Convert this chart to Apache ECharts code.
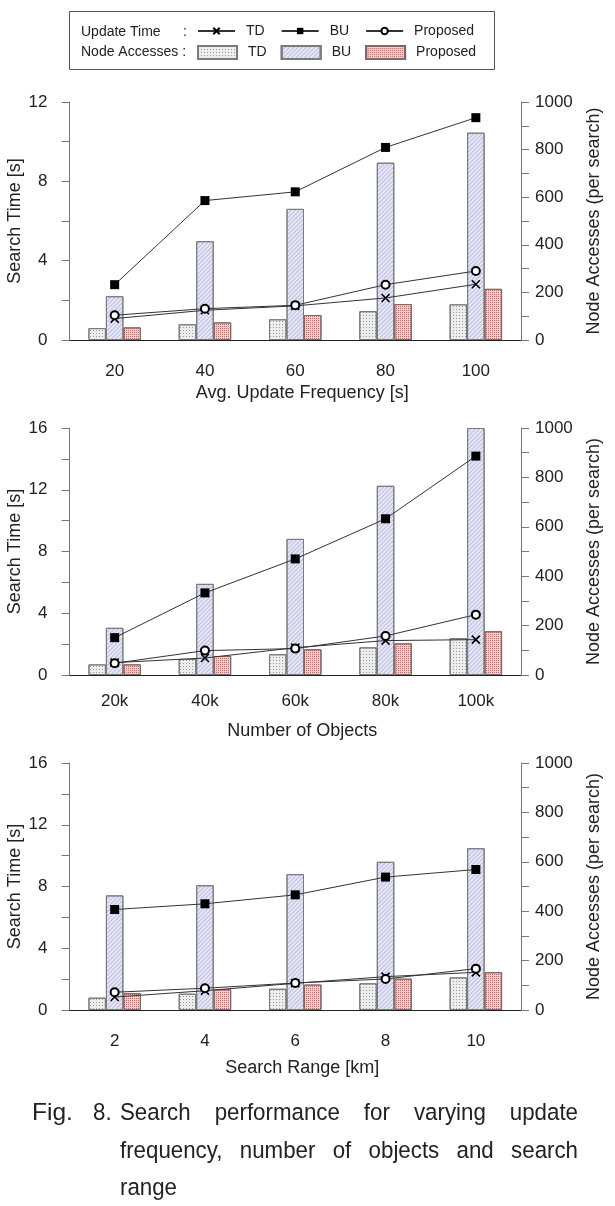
<!DOCTYPE html>
<html><head><meta charset="utf-8">
<script src="https://cdn.jsdelivr.net/npm/echarts@6/dist/echarts.min.js"></script>
<style>html,body{margin:0;padding:0;background:#fff}#c{width:615px;height:1206px}</style>
</head><body><div id="c"></div>
<script>
// ---------- data ----------
const categories1 = ['20', '40', '60', '80', '100'];
const categories2 = ['20k', '40k', '60k', '80k', '100k'];
const categories3 = ['2', '4', '6', '8', '10'];

// node accesses (right axis)
const tdNodes1 = [50, 66, 87, 121, 150];
const buNodes1 = [184, 415, 551, 745, 871];
const propNodes1 = [53, 74, 105, 151, 215];
const tdNodes2 = [43, 65, 84, 112, 149];
const buNodes2 = [191, 369, 551, 766, 1000];
const propNodes2 = [43, 77, 104, 128, 177];
const tdNodes3 = [50, 66, 86, 108, 132];
const buNodes3 = [464, 505, 550, 600, 655];
const propNodes3 = [68, 84, 103, 127, 153];

// search time (left axis)
const tdTime1 = [1.08, 1.50, 1.72, 2.12, 2.81];
const buTime1 = [2.79, 7.03, 7.47, 9.71, 11.21];
const propTime1 = [1.25, 1.58, 1.75, 2.79, 3.48];
const tdTime2 = [0.80, 1.10, 1.77, 2.23, 2.29];
const buTime2 = [2.42, 5.32, 7.52, 10.12, 14.18];
const propTime2 = [0.76, 1.58, 1.71, 2.53, 3.91];
const tdTime3 = [0.84, 1.25, 1.73, 2.16, 2.44];
const buTime3 = [6.51, 6.88, 7.46, 8.61, 9.10];
const propTime3 = [1.15, 1.41, 1.75, 2.01, 2.68];

const leftMax = [12, 16, 16];
const rightMax = 1000;
const xNames = ['Avg. Update Frequency [s]', 'Number of Objects', 'Search Range [km]'];
const leftName = 'Search Time [s]';
const rightName = 'Node Accesses (per search)';
const captionLine1Lead = ['Fig.', '8.'];
const captionLine1 = ['Search', 'performance', 'for', 'varying', 'update'];
const captionLine2 = ['frequency,', 'number', 'of', 'objects', 'and', 'search'];
const captionLine3 = ['range'];

// ---------- layout / style ----------
const FONT = '"Liberation Sans", Arial, Helvetica, sans-serif';
const TXT = '#222';
const AX = '#777';
const cats = [categories1, categories2, categories3];
const tdN = [tdNodes1, tdNodes2, tdNodes3];
const buN = [buNodes1, buNodes2, buNodes3];
const prN = [propNodes1, propNodes2, propNodes3];
const tdT = [tdTime1, tdTime2, tdTime3];
const buT = [buTime1, buTime2, buTime3];
const prT = [propTime1, propTime2, propTime3];

const gridDefs = [
  { top: 102, height: 238, labelMargin: 23, nameGap: 44 },
  { top: 428, height: 247, labelMargin: 18, nameGap: 47 },
  { top: 763, height: 247, labelMargin: 23, nameGap: 49 }
];
const GL = 69.5, GR = 94;

const tdBarStyle = {
  color: '#ededed', borderColor: '#7a7a7a', borderWidth: 1,
  decal: { symbol: 'rect', symbolSize: 1, color: 'rgba(70,70,70,0.5)', dashArrayX: [1, 2], dashArrayY: [1, 2], rotation: 0 }
};
const buBarStyle = {
  color: '#e6e8fa', borderColor: '#7a7a7a', borderWidth: 1,
  decal: { symbol: 'rect', symbolSize: 1, color: 'rgba(110,110,160,0.35)', dashArrayX: [1, 0], dashArrayY: [1, 2], rotation: -Math.PI / 4 }
};
const prBarStyle = {
  color: '#f7c9c9', borderColor: '#7a6a6a', borderWidth: 1,
  decal: { symbol: 'rect', symbolSize: 1, color: 'rgba(215,50,50,0.7)', dashArrayX: [1, 1], dashArrayY: [1, 1], rotation: 0 }
};

const grid = [], xAxis = [], yAxis = [], series = [];
for (let i = 0; i < 3; i++) {
  const g = gridDefs[i];
  grid.push({ left: GL, right: GR, top: g.top, height: g.height, containLabel: false, outerBoundsMode: 'none' });
  xAxis.push({
    type: 'category', gridIndex: i, data: cats[i], boundaryGap: true,
    axisLine: { lineStyle: { color: '#222', width: 1 } },
    axisTick: { alignWithLabel: true, length: 14, lineStyle: { color: AX } },
    axisLabel: { margin: g.labelMargin, fontSize: 17, color: TXT, fontFamily: FONT },
    name: xNames[i], nameLocation: 'middle', nameGap: g.nameGap,
    nameTextStyle: { fontSize: 18, color: TXT, fontFamily: FONT, padding: [0, 0, 0, 14] }
  });
  yAxis.push({
    type: 'value', gridIndex: i, position: 'left', min: 0, max: leftMax[i], interval: 2,
    axisLine: { show: true, lineStyle: { color: AX } },
    axisTick: { show: true, length: 8, lineStyle: { color: AX } },
    splitLine: { show: false },
    axisLabel: { margin: 22, fontSize: 17, color: TXT, fontFamily: FONT, formatter: v => (v % 4 === 0 ? String(v) : '') },
    name: leftName, nameLocation: 'middle', nameGap: 45, nameRotate: 90, nameMoveOverlap: false,
    nameTextStyle: { fontSize: 18, color: TXT, fontFamily: FONT }
  });
  yAxis.push({
    type: 'value', gridIndex: i, position: 'right', min: 0, max: rightMax, interval: 100,
    axisLine: { show: true, lineStyle: { color: AX } },
    axisTick: { show: true, length: 8, lineStyle: { color: AX } },
    splitLine: { show: false },
    axisLabel: { margin: 14, fontSize: 17, color: TXT, fontFamily: FONT, formatter: v => (v % 200 === 0 ? String(v) : '') },
    name: rightName, nameLocation: 'middle', nameGap: 64, nameRotate: 90,
    nameTextStyle: { fontSize: 18, color: TXT, fontFamily: FONT }
  });
  const barCommon = { type: 'bar', xAxisIndex: i, yAxisIndex: 2 * i + 1, barWidth: 17.5, barGap: '0%', emphasis: { disabled: true }, z: 2 };
  series.push(Object.assign({ name: 'TD nodes', data: tdN[i], itemStyle: tdBarStyle }, barCommon));
  series.push(Object.assign({ name: 'BU nodes', data: buN[i], itemStyle: buBarStyle }, barCommon));
  series.push(Object.assign({ name: 'Proposed nodes', data: prN[i], itemStyle: prBarStyle }, barCommon));
  const lineCommon = { type: 'line', xAxisIndex: i, yAxisIndex: 2 * i, lineStyle: { color: '#333', width: 1 }, emphasis: { disabled: true }, z: 5 };
  series.push(Object.assign({
    name: 'TD time', data: tdT[i], symbol: 'path://M0,0L10,10M10,0L0,10', symbolSize: 8,
    itemStyle: { color: 'none', borderColor: '#000', borderWidth: 1.6 }
  }, lineCommon));
  series.push(Object.assign({
    name: 'BU time', data: buT[i], symbol: 'rect', symbolSize: 9,
    itemStyle: { color: '#000' }
  }, lineCommon));
  series.push(Object.assign({
    name: 'Proposed time', data: prT[i], symbol: 'emptyCircle', symbolSize: 8,
    itemStyle: { color: '#000', borderWidth: 1 }
  }, lineCommon));
}

// ---------- caption layout (justified words) ----------
const capFont = '24.5px ' + FONT;
const capScale = 0.91;
const mctx = document.createElement('canvas').getContext('2d');
mctx.font = capFont;
function wordW(w) { return mctx.measureText(w).width * capScale; }
function capText(w, x, y, sx) {
  return { type: 'text', x: x, y: y, scaleX: sx || capScale, style: { text: w, font: capFont, fill: TXT, verticalAlign: 'middle' } };
}
function justify(words, x0, x1, y) {
  const widths = words.map(wordW);
  const sum = widths.reduce((a, b) => a + b, 0);
  const gap = words.length > 1 ? (x1 - x0 - sum) / (words.length - 1) : 0;
  let x = x0;
  return words.map((w, k) => { const el = capText(w, x, y); x += widths[k] + gap; return el; });
}
const capEls = [].concat(
  [capText(captionLine1Lead[0], 32, 1113, 1.0), capText(captionLine1Lead[1], 93, 1113)],
  justify(captionLine1, 120, 578, 1113),
  justify(captionLine2, 120, 578, 1151),
  justify(captionLine3, 120, 578, 1188)
);

const legendText = { fontSize: 14, color: TXT, fontFamily: FONT, padding: [0, 0, 0, 6] };
const option = {
  animation: false,
  backgroundColor: '#fff',
  textStyle: { fontFamily: FONT },
  grid, xAxis, yAxis, series,
  legend: [
    {
      left: 197, top: 24, padding: 0, itemWidth: 37, itemHeight: 8, itemGap: 16, selectedMode: false,
      data: ['TD time', 'BU time', 'Proposed time'],
      formatter: n => n.replace(' time', ''), textStyle: legendText
    },
    {
      left: 197, top: 45, padding: 0, itemWidth: 39, itemHeight: 13, itemGap: 14, selectedMode: false, icon: 'rect',
      data: ['TD nodes', 'BU nodes', 'Proposed nodes'],
      formatter: n => n.replace(' nodes', ''), textStyle: legendText
    }
  ],
  graphic: [
    { type: 'rect', shape: { x: 69.5, y: 11.5, width: 425, height: 58 }, style: { fill: 'none', stroke: '#555', lineWidth: 1 }, z: -1 },
    { type: 'text', x: 81, y: 32.5, style: { text: 'Update Time', font: '14px ' + FONT, fill: TXT, verticalAlign: 'middle' } },
    { type: 'text', x: 183, y: 32.5, style: { text: ':', font: '14px ' + FONT, fill: TXT, verticalAlign: 'middle' } },
    { type: 'text', x: 81, y: 52.5, style: { text: 'Node Accesses :', font: '14px ' + FONT, fill: TXT, verticalAlign: 'middle' } }
  ].concat(capEls)
};

const chart = echarts.init(document.getElementById('c'));
chart.setOption(option);
</script>
</body></html>
